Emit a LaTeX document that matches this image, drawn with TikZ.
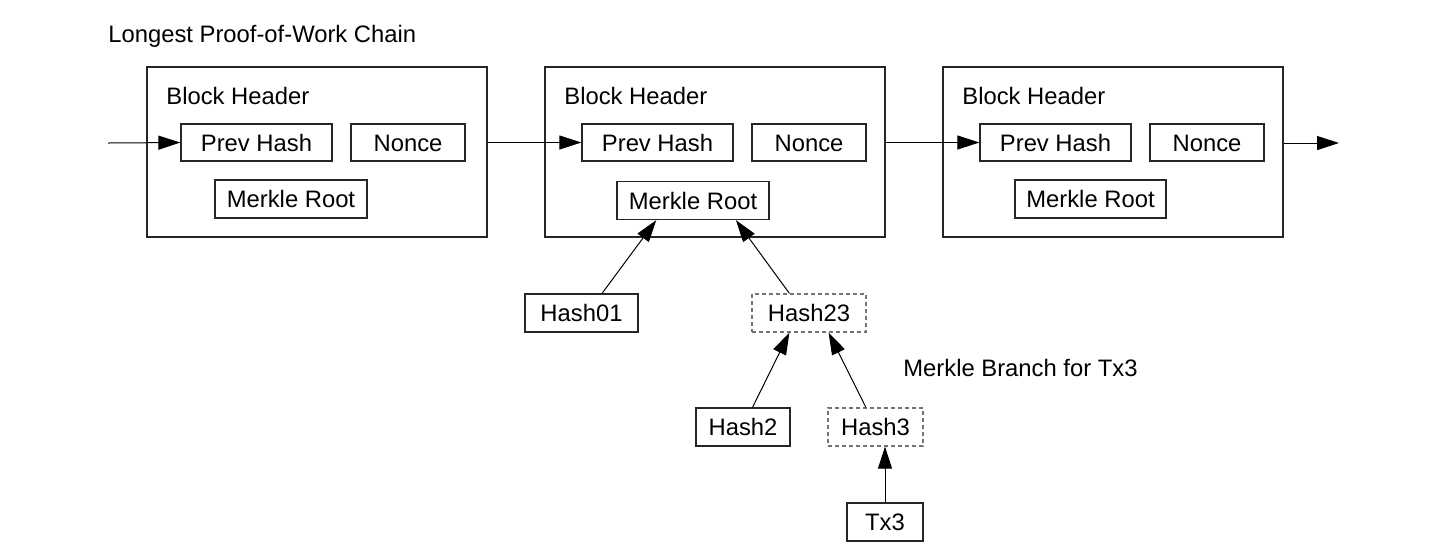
\documentclass[tikz,border=0pt]{standalone}
\usepackage{fontspec}
\setmainfont{Liberation Sans}
\usetikzlibrary{arrows.meta,calc}
\begin{document}
\begin{tikzpicture}[x=0.5pt,y=-0.5pt,
  every node/.style={font=\fontsize{11.9pt}{14pt}\selectfont, inner sep=0pt},
  box/.style={draw=black!85, line width=0.65pt, rectangle, text height=8.6pt, text depth=0pt},
  dbox/.style={draw=black!55, line width=0.6pt, dash pattern=on 2pt off 1.5pt, rectangle, text height=8.6pt, text depth=0pt},
  arr/.style={line width=0.5pt, -{Triangle[length=11pt,width=7pt]}}]
\useasboundingbox (0,0) rectangle (1429,559);
% labels
\node[anchor=west] (title) at (108,36) {Longest Proof-of-Work Chain};
\node[anchor=west] (branch) at (903,368) {Merkle Branch for Tx3};
% blocks
\foreach \i/\x/\y in {1/0/0,2/398/401,3/796/799}{
  \node[box, minimum width=170pt, minimum height=85pt] (b\i) at (317+\x,152) {};
  \node[anchor=west] (bh\i) at (166+\x,96) {Block Header};
  \node[box, minimum width=75.5pt, minimum height=18.5pt] (ph\i) at (256.5+\y,142.5) {Prev Hash};
  \node[box, minimum width=57pt, minimum height=18.5pt] (no\i) at (408+\y,142.5) {Nonce};
}
\node[box, minimum width=76pt, minimum height=19pt] (mr1) at (291,199) {Merkle Root};
\node[box, minimum width=76pt, minimum height=19pt] (mr2) at (693,200.5) {Merkle Root};
\node[box, minimum width=75.5pt, minimum height=19pt] (mr3) at (1090.5,199) {Merkle Root};
% tree
\node[box, minimum width=56.5pt, minimum height=19pt] (h01) at (581.5,313) {Hash01};
\node[dbox, minimum width=57pt, minimum height=19pt] (h23) at (809,313) {Hash23};
\node[box, minimum width=47pt, minimum height=19pt] (h2) at (743,427) {Hash2};
\node[dbox, minimum width=47.5pt, minimum height=19pt] (h3) at (875.5,427) {Hash3};
\node[box, minimum width=38pt, minimum height=19pt] (tx3) at (885,522) {Tx3};
% chain arrows
\coordinate (in) at (108,143);
\coordinate (out) at (1339,143);
\draw[arr] (in) -- (ph1.west);
\draw[arr] (b1.east |- ph2.west) -- (ph2.west);
\draw[arr] (b2.east |- ph3.west) -- (ph3.west);
\draw[arr] (b3.east |- out) -- (out);
% merkle arrows
\draw[arr] ($(h01.north west)!0.68!(h01.north east)$) -- ($(mr2.south west)!0.26!(mr2.south east)$);
\draw[arr] ($(h23.north west)!0.33!(h23.north east)$) -- ($(mr2.south west)!0.78!(mr2.south east)$);
\draw[arr] ($(h2.north west)!0.60!(h2.north east)$) -- ($(h23.south west)!0.33!(h23.south east)$);
\draw[arr] ($(h3.north west)!0.40!(h3.north east)$) -- ($(h23.south west)!0.67!(h23.south east)$);
\draw[arr] (tx3.north) -- (tx3.north |- h3.south);
\end{tikzpicture}
\end{document}
